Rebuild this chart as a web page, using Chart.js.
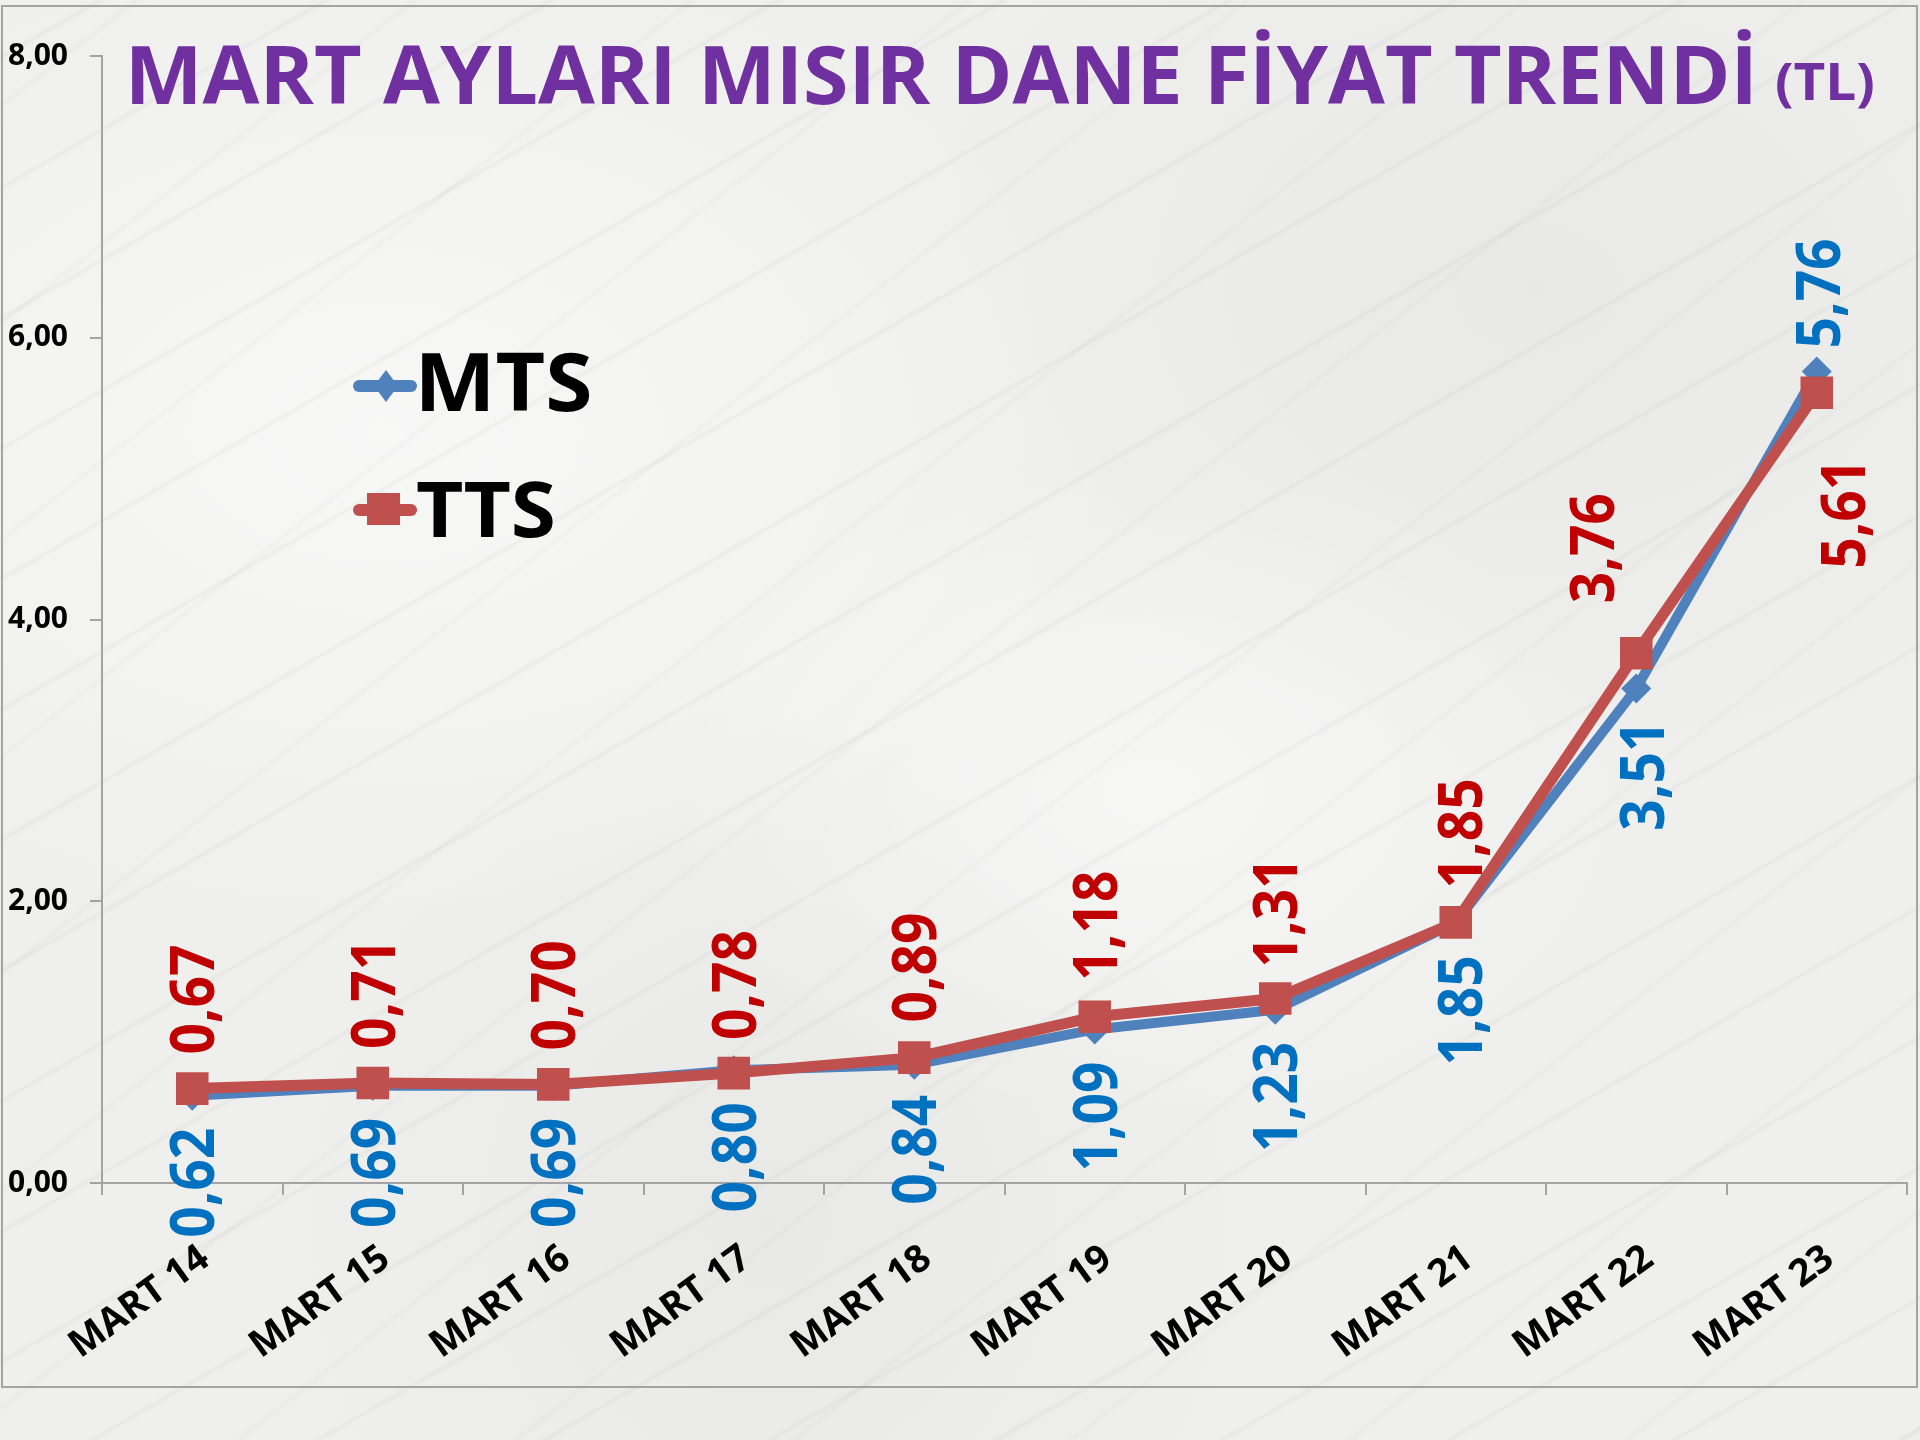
<!DOCTYPE html>
<html lang="tr">
<head>
<meta charset="utf-8">
<title>Mart Ayları Mısır Dane Fiyat Trendi</title>
<script src="https://cdn.jsdelivr.net/npm/chart.js@4.4.1/dist/chart.umd.min.js"></script>
<style>
  html, body { margin: 0; padding: 0; }
  body {
    width: 1920px;
    height: 1440px;
    overflow: hidden;
    background-color: #efefee;
    background-image:
      repeating-linear-gradient(150deg, rgba(140,140,135,0) 0px, rgba(140,140,135,0) 47px, rgba(140,140,135,0.08) 50px, rgba(140,140,135,0) 54px, rgba(140,140,135,0) 113px),
      repeating-linear-gradient(142deg, rgba(150,150,145,0) 0px, rgba(150,150,145,0) 81px, rgba(150,150,145,0.06) 84px, rgba(150,150,145,0) 88px, rgba(150,150,145,0) 171px),
      radial-gradient(ellipse at 20% 30%, rgba(255,255,255,0.55), rgba(255,255,255,0) 35%),
      radial-gradient(ellipse at 60% 55%, rgba(255,255,255,0.45), rgba(255,255,255,0) 30%),
      radial-gradient(ellipse at 80% 20%, rgba(226,226,223,0.5), rgba(226,226,223,0) 30%),
      radial-gradient(ellipse at 40% 85%, rgba(226,226,223,0.5), rgba(226,226,223,0) 30%);
  }
  #chart { display: block; }
</style>
</head>
<body>
<canvas id="chart" width="1920" height="1440"></canvas>
<script>
// Veriler
const categories = ['MART 14', 'MART 15', 'MART 16', 'MART 17', 'MART 18', 'MART 19', 'MART 20', 'MART 21', 'MART 22', 'MART 23'];
const mtsValues = [0.62, 0.69, 0.69, 0.80, 0.84, 1.09, 1.23, 1.85, 3.51, 5.76];
const ttsValues = [0.67, 0.71, 0.70, 0.78, 0.89, 1.18, 1.31, 1.85, 3.76, 5.61];
const yTicks = [0, 2, 4, 6, 8];

// Etiket yerleşimi (yön, boşluk, yatay kayma)
const mtsLabelPlace = [
  ['below', 32, 0], ['below', 32, 0], ['below', 32, 0], ['below', 32, 0], ['below', 30, 0],
  ['below', 32, 0], ['below', 32, 0], ['below', 33, 4], ['below', 32, 6], ['above', 23, 1]
];
const ttsLabelPlace = [
  ['above', 34, 0], ['above', 34, 0], ['above', 34, 0], ['above', 33, 0], ['above', 35, 0],
  ['above', 36, 0], ['above', 31, 0], ['above', 34, 4], ['above', 50, -44], ['below', 66, 26]
];

const FONT = '"Open Sans", "Noto Sans", sans-serif';

const fmt = v => v.toFixed(2).replace('.', ',');

// metni verilen büyük harf yüksekliği ve genişliğe sığdırarak yaz
function fitText(ctx, text, x, y, capH, width, color) {
  ctx.save();
  ctx.font = 'bold 100px ' + FONT;
  const cap = ctx.measureText('H').actualBoundingBoxAscent;
  const size = 100 * capH / cap;
  ctx.font = 'bold ' + size + 'px ' + FONT;
  const m = ctx.measureText(text);
  const w = m.actualBoundingBoxLeft + m.actualBoundingBoxRight;
  ctx.translate(x, y);
  ctx.scale(width / w, 1);
  ctx.fillStyle = color;
  ctx.textAlign = 'left';
  ctx.textBaseline = 'alphabetic';
  ctx.fillText(text, m.actualBoundingBoxLeft, 0);
  ctx.restore();
}

const framePlugin = {
  id: 'frame',
  beforeDraw(chart) {
    const ctx = chart.ctx;
    ctx.save();
    ctx.strokeStyle = '#a3a3a3';
    ctx.lineWidth = 2;
    ctx.strokeRect(2, 6, 1915, 1381);
    ctx.restore();
  }
};

const valueLabelPlugin = {
  id: 'valueLabels',
  afterDatasetsDraw(chart) {
    const ctx = chart.ctx;
    ctx.save();
    ctx.font = 'bold 100px ' + FONT;
    const cap = ctx.measureText('0').actualBoundingBoxAscent;
    const size = 100 * 44 / cap;
    ctx.font = 'bold ' + size + 'px ' + FONT;
    const ref = ctx.measureText('0,67');
    const stretch = 107 / (ref.actualBoundingBoxLeft + ref.actualBoundingBoxRight);
    const sets = [
      { values: mtsValues, place: mtsLabelPlace, color: '#0070C0', idx: 0 },
      { values: ttsValues, place: ttsLabelPlace, color: '#C00000', idx: 1 }
    ];
    sets.forEach(s => {
      const meta = chart.getDatasetMeta(s.idx);
      meta.data.forEach((pt, i) => {
        const [dir, gap, dx] = s.place[i];
        const y = dir === 'above' ? pt.y - gap : pt.y + gap;
        ctx.save();
        ctx.translate(pt.x + dx, y);
        ctx.rotate(-Math.PI / 2);
        ctx.scale(stretch, 1);
        ctx.fillStyle = s.color;
        ctx.textAlign = dir === 'above' ? 'left' : 'right';
        ctx.textBaseline = 'alphabetic';
        ctx.fillText(fmt(s.values[i]), 0, cap * size / 100 / 2);
        ctx.restore();
      });
    });
    ctx.restore();
  }
};

const overlayPlugin = {
  id: 'overlay',
  afterDraw(chart) {
    const ctx = chart.ctx;
    // Başlık
    fitText(ctx, 'MART AYLARI MISIR DANE FİYAT TRENDİ', 132, 104, 58, 1619, '#7030A0');
    fitText(ctx, '(TL)', 1777, 100, 38, 96, '#7030A0');

    // Açıklama (legend)
    const ds = chart.data.datasets;
    ctx.save();
    ctx.lineCap = 'round';
    ctx.lineWidth = 12;
    // MTS
    ctx.strokeStyle = ds[0].borderColor;
    ctx.beginPath();
    ctx.moveTo(359, 386);
    ctx.lineTo(411, 386);
    ctx.stroke();
    ctx.fillStyle = ds[0].backgroundColor;
    ctx.beginPath();
    ctx.moveTo(386, 370);
    ctx.lineTo(398, 386);
    ctx.lineTo(386, 402);
    ctx.lineTo(374, 386);
    ctx.closePath();
    ctx.fill();
    // TTS
    ctx.strokeStyle = ds[1].borderColor;
    ctx.beginPath();
    ctx.moveTo(359, 510);
    ctx.lineTo(411, 510);
    ctx.stroke();
    ctx.fillStyle = ds[1].backgroundColor;
    ctx.fillRect(367, 493, 33, 32);
    ctx.restore();
    fitText(ctx, ds[0].label, 422, 411, 58, 168, '#000000');
    fitText(ctx, ds[1].label, 417, 537, 56, 136, '#000000');
  }
};

const axisColor = '#a3a3a3';

const chart = new Chart(document.getElementById('chart'), {
  type: 'line',
  data: {
    labels: categories,
    datasets: [
      {
        label: 'MTS',
        data: mtsValues,
        borderColor: '#4F81BD',
        backgroundColor: '#4F81BD',
        borderWidth: 10,
        pointStyle: 'rectRot',
        pointRadius: 15,
        pointBorderWidth: 0,
        borderJoinStyle: 'round',
        tension: 0,
        order: 1
      },
      {
        label: 'TTS',
        data: ttsValues,
        borderColor: '#C0504D',
        backgroundColor: '#C0504D',
        borderWidth: 11,
        pointStyle: 'rect',
        pointRadius: 23,
        pointBorderWidth: 0,
        borderJoinStyle: 'round',
        tension: 0,
        order: 0
      }
    ]
  },
  options: {
    responsive: false,
    devicePixelRatio: 1,
    animation: false,
    layout: {
      autoPadding: false,
      padding: { top: 56, right: 13, left: 0, bottom: 0 }
    },
    plugins: {
      legend: { display: false },
      title: { display: false },
      tooltip: { enabled: false }
    },
    scales: {
      x: {
        offset: true,
        grid: { offset: true, drawOnChartArea: false, drawTicks: true, tickLength: 12, color: axisColor, lineWidth: 2 },
        border: { display: true, color: axisColor, width: 2 },
        ticks: {
          color: '#000000',
          font: { family: FONT, size: 38, weight: 'bold' },
          minRotation: 36,
          maxRotation: 36,
          autoSkip: false,
          padding: 41,
          labelOffset: 13
        },
        afterFit: s => {
          s.height = 257;
          s.paddingLeft = 0;
          s.paddingRight = 0;
        }
      },
      y: {
        min: 0,
        max: 8,
        afterBuildTicks: s => { s.ticks = yTicks.map(v => ({ value: v })); },
        grid: { drawOnChartArea: false, drawTicks: true, tickLength: 12, color: axisColor, lineWidth: 2 },
        border: { display: true, color: axisColor, width: 2 },
        ticks: {
          color: '#000000',
          font: { family: FONT, size: 30, weight: 'bold' },
          padding: 22,
          callback: v => fmt(v)
        },
        afterFit: s => { s.width = 102; }
      }
    }
  },
  plugins: [framePlugin, valueLabelPlugin, overlayPlugin]
});
</script>
</body>
</html>
